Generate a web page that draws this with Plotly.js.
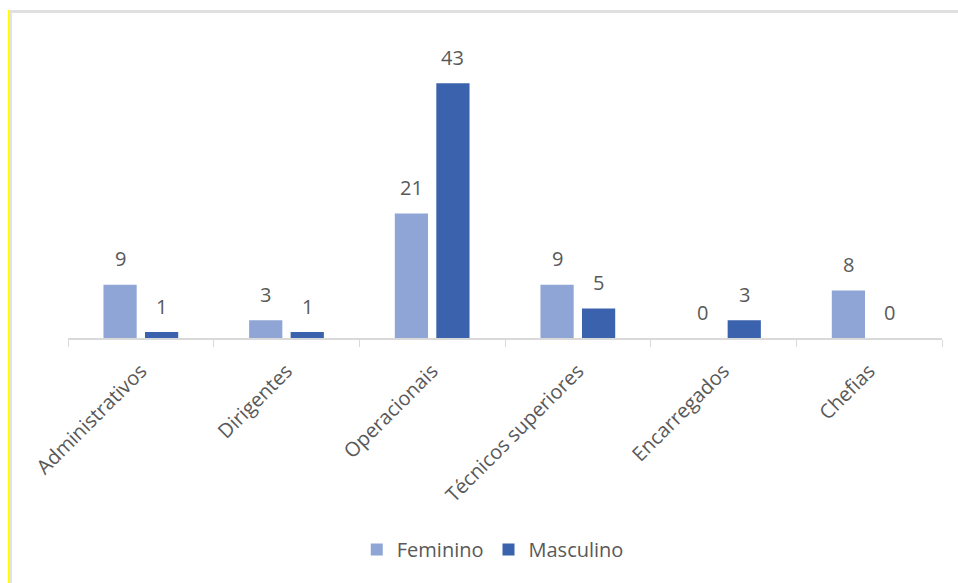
<!DOCTYPE html>
<html>
<head>
<meta charset="utf-8">
<script src="https://cdn.plot.ly/plotly-3.0.1.min.js"></script>
<style>
  html, body { margin: 0; padding: 0; background: #fff; }
  #wrap { position: relative; width: 958px; height: 583px; overflow: hidden; }
  #chart { position: absolute; left: 0; top: 0; width: 958px; height: 583px; }
  .b-top { position: absolute; left: 10px; top: 10px; width: 948px; height: 3px; background: #e0e0e0; }
  .b-yel { position: absolute; left: 8px; top: 10px; width: 2px; height: 573px; background: #ffff00; }
  .b-gry { position: absolute; left: 10px; top: 12px; width: 2px; height: 571px; background: #e3e3e3; }
</style>
</head>
<body>
<div id="wrap">
  <div id="chart"></div>
  <div class="b-top"></div>
  <div class="b-yel"></div>
  <div class="b-gry"></div>
</div>
<script>
const categories = ["Administrativos", "Dirigentes", "Operacionais", "Técnicos superiores", "Encarregados", "Chefias"];
const feminino = [9, 3, 21, 9, 0, 8];
const masculino = [1, 1, 43, 5, 3, 0];
const seriesNames = ["Feminino", "Masculino"];

const colF = "#8FA5D6";
const colM = "#3B62AD";
const txt = "#595959";
const font = "'Open Sans', 'Noto Sans', sans-serif";

const traces = [
  { type: "bar", name: seriesNames[0], x: categories, y: feminino, marker: { color: colF }, hoverinfo: "none" },
  { type: "bar", name: seriesNames[1], x: categories, y: masculino, marker: { color: colM }, hoverinfo: "none" }
];

const annotations = [];
[[feminino, -20.75], [masculino, 20.75]].forEach(([vals, dx]) => {
  vals.forEach((v, i) => {
    annotations.push({
      x: categories[i], y: v, xref: "x", yref: "y",
      text: String(v), showarrow: false,
      xanchor: "center", yanchor: "middle",
      xshift: dx, yshift: 26,
      font: { family: font, size: 20, color: txt }
    });
  });
});

const layout = {
  width: 958, height: 583,
  paper_bgcolor: "rgba(0,0,0,0)", plot_bgcolor: "rgba(0,0,0,0)",
  margin: { l: 68, r: 16, t: 40, b: 245 },
  barmode: "group", bargap: 0.43, bargroupgap: 0.2,
  font: { family: font, color: txt, size: 16 },
  showlegend: true,
  legend: {
    orientation: "h", x: 0.486, xanchor: "center", y: -0.71, yanchor: "middle",
    font: { family: font, size: 20, color: txt }, itemwidth: 30
  },
  xaxis: {
    type: "category", tickson: "boundaries", ticks: "outside", ticklen: 7,
    tickcolor: "#d9d9d9", linecolor: "#d9d9d9", linewidth: 1.5, showline: true,
    showgrid: false, tickangle: -45, tickfont: { family: font, size: 20, color: txt },
    ticklabelstandoff: 12,
    fixedrange: true
  },
  yaxis: { visible: false, range: [0, 50.3], showgrid: false, zeroline: false, fixedrange: true },
  annotations: annotations
};

Plotly.newPlot("chart", traces, layout, { staticPlot: true });
</script>
</body>
</html>
